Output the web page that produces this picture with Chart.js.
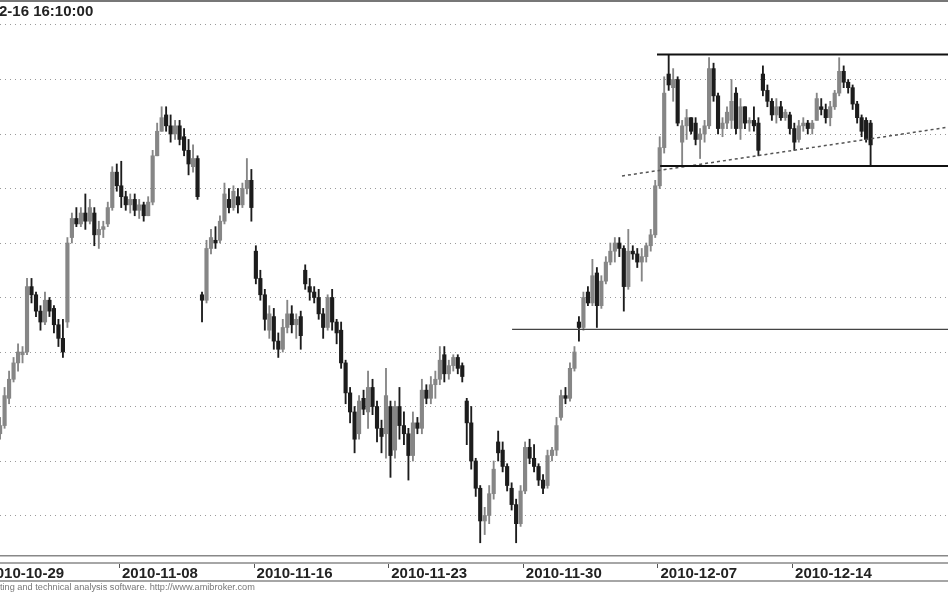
<!DOCTYPE html>
<html>
<head>
<meta charset="utf-8">
<script src="https://cdn.jsdelivr.net/npm/chart.js@4.4.1/dist/chart.umd.min.js"></script>
<style>
html, body { margin: 0; padding: 0; background: #fff; overflow: hidden; }
#wrap { position: relative; width: 948px; height: 593px; overflow: hidden; }
#c { position: absolute; left: -30px; top: 0; }
#title { position: absolute; left: -1px; top: 2px; font: bold 15px "Liberation Sans", Arial, sans-serif; color: #222; white-space: nowrap; }
#foot { position: absolute; left: 0; top: 582px; font: 9.2px "Liberation Sans", Arial, sans-serif; color: #777; white-space: nowrap; }
</style>
</head>
<body>
<div id="wrap">
  <canvas id="c" width="978" height="593"></canvas>
  <div id="title">2-16 16:10:00</div>
  <div id="foot">ting and technical analysis software. http://www.amibroker.com</div>
</div>
<script>
// 6 bars per session, bar 0 = first bar of 2010-10-29
const opens = [
    2631, 2630, 2632, 2630, 2633, 2643,  2650, 2656, 2659, 2660, 2684, 2681,
    2675, 2671, 2679, 2676, 2670, 2665,  2671, 2702, 2709, 2707, 2711, 2708,
    2711, 2703, 2705, 2707, 2713, 2726,  2721, 2717, 2714, 2716, 2712, 2714,
    2710, 2715, 2732, 2741, 2747, 2743,  2740, 2743, 2739, 2734, 2728, 2731,
    2681, 2679, 2698, 2701, 2701, 2708,  2716, 2713, 2717, 2714, 2720, 2723,
    2697, 2687, 2681, 2668, 2673, 2664,  2661, 2669, 2674, 2670, 2673, 2690,
    2684, 2682, 2680, 2674, 2669, 2680,  2671, 2668, 2656, 2645, 2638, 2630,
    2643, 2638, 2647, 2640, 2632, 2630,  2640, 2624, 2640, 2633, 2630, 2622,
    2634, 2632, 2646, 2643, 2648, 2650,  2659, 2652, 2655, 2658, 2655, 2642,
    2634, 2620, 2610, 2598, 2600, 2608,  2627, 2624, 2618, 2610, 2604, 2597,
    2609, 2625, 2621, 2618, 2613, 2611,  2622, 2624, 2636, 2644, 2643, 2654,
    2671, 2669, 2682, 2678, 2689, 2677,  2686, 2693, 2697, 2700, 2698, 2684,
    2697, 2696, 2693, 2695, 2699, 2703,  2721, 2735, 2762, 2757, 2760, 2737,
    2743, 2746, 2744, 2738, 2740, 2743,  2764, 2754, 2742, 2744, 2745, 2755,
    2742, 2750, 2744, 2745, 2744, 2762,  2756, 2752, 2747, 2750, 2746, 2747,
    2742, 2738, 2743, 2744, 2742, 2745,  2750, 2749, 2746, 2750, 2755, 2763,
    2759, 2757, 2751, 2746, 2745, 2744
];
const highs = [
    2634, 2633, 2634, 2636, 2647, 2653,  2658, 2663, 2662, 2687, 2687, 2682,
    2677, 2682, 2680, 2677, 2672, 2672,  2702, 2711, 2713, 2713, 2718, 2716,
    2713, 2708, 2708, 2715, 2728, 2729,  2730, 2719, 2718, 2718, 2716, 2715,
    2717, 2734, 2744, 2750, 2750, 2747,  2745, 2745, 2742, 2738, 2736, 2732,
    2682, 2701, 2705, 2706, 2710, 2722,  2720, 2721, 2720, 2722, 2731, 2727,
    2699, 2690, 2683, 2677, 2676, 2667,  2672, 2679, 2677, 2674, 2675, 2692,
    2687, 2684, 2683, 2676, 2681, 2683,  2672, 2671, 2657, 2647, 2640, 2644,
    2646, 2653, 2650, 2642, 2635, 2654,  2642, 2642, 2647, 2638, 2632, 2638,
    2636, 2650, 2648, 2651, 2653, 2662,  2662, 2657, 2659, 2659, 2656, 2643,
    2640, 2621, 2611, 2603, 2611, 2620,  2631, 2627, 2619, 2612, 2606, 2611,
    2627, 2628, 2626, 2619, 2615, 2624,  2625, 2636, 2646, 2647, 2656, 2662,
    2673, 2682, 2684, 2694, 2691, 2688,  2695, 2700, 2702, 2702, 2699, 2705,
    2699, 2698, 2698, 2700, 2705, 2723,  2739, 2761, 2769, 2764, 2761, 2745,
    2749, 2746, 2746, 2742, 2745, 2768,  2766, 2755, 2746, 2750, 2760, 2757,
    2753, 2750, 2746, 2750, 2746, 2765,  2758, 2753, 2753, 2752, 2749, 2748,
    2744, 2745, 2746, 2745, 2745, 2755,  2753, 2751, 2752, 2756, 2768, 2765,
    2760, 2758, 2752, 2747, 2746, 2745
];
const lows = [
    2628, 2627, 2628, 2628, 2632, 2641,  2649, 2653, 2656, 2659, 2678, 2673,
    2668, 2670, 2673, 2667, 2662, 2658,  2669, 2700, 2706, 2706, 2705, 2707,
    2699, 2698, 2702, 2706, 2712, 2719,  2713, 2712, 2711, 2710, 2709, 2708,
    2710, 2714, 2732, 2741, 2741, 2737,  2738, 2736, 2732, 2725, 2726, 2716,
    2671, 2678, 2696, 2698, 2700, 2707,  2711, 2712, 2711, 2713, 2718, 2708,
    2685, 2679, 2668, 2665, 2661, 2658,  2660, 2667, 2667, 2665, 2661, 2683,
    2679, 2678, 2672, 2665, 2668, 2668,  2663, 2654, 2641, 2634, 2623, 2628,
    2637, 2632, 2637, 2627, 2623, 2621,  2614, 2621, 2628, 2626, 2613, 2620,
    2630, 2630, 2641, 2641, 2643, 2648,  2649, 2650, 2653, 2652, 2649, 2626,
    2617, 2607, 2590, 2593, 2597, 2606,  2620, 2616, 2609, 2602, 2590, 2596,
    2608, 2619, 2616, 2611, 2608, 2610,  2620, 2622, 2635, 2641, 2642, 2653,
    2664, 2668, 2677, 2677, 2669, 2676,  2685, 2692, 2693, 2695, 2675, 2683,
    2694, 2691, 2686, 2693, 2697, 2702,  2720, 2733, 2756, 2752, 2743, 2728,
    2738, 2740, 2736, 2731, 2737, 2742,  2752, 2740, 2739, 2742, 2742, 2740,
    2738, 2742, 2741, 2741, 2732, 2754,  2750, 2745, 2744, 2745, 2745, 2740,
    2734, 2737, 2741, 2740, 2740, 2745,  2747, 2744, 2743, 2749, 2754, 2757,
    2755, 2749, 2744, 2739, 2737, 2728
];
const closes = [
    2630, 2632, 2629, 2633, 2644, 2650,  2656, 2660, 2660, 2684, 2681, 2675,
    2671, 2679, 2675, 2670, 2665, 2660,  2700, 2709, 2707, 2711, 2708, 2713,
    2703, 2705, 2706, 2713, 2726, 2721,  2717, 2714, 2716, 2712, 2714, 2710,
    2715, 2732, 2741, 2746, 2743, 2740,  2743, 2738, 2734, 2729, 2731, 2717,
    2679, 2698, 2702, 2700, 2708, 2718,  2713, 2719, 2714, 2720, 2723, 2713,
    2687, 2681, 2672, 2674, 2664, 2661,  2669, 2674, 2670, 2672, 2666, 2685,
    2682, 2680, 2674, 2669, 2680, 2671,  2667, 2656, 2645, 2638, 2628, 2642,
    2639, 2647, 2640, 2632, 2629, 2644,  2622, 2640, 2633, 2630, 2622, 2634,
    2632, 2646, 2643, 2648, 2650, 2657,  2652, 2655, 2658, 2654, 2651, 2634,
    2620, 2610, 2598, 2600, 2608, 2617,  2623, 2618, 2611, 2604, 2597, 2609,
    2625, 2621, 2618, 2613, 2610, 2622,  2624, 2633, 2644, 2643, 2654, 2660,
    2669, 2680, 2678, 2688, 2677, 2686,  2693, 2697, 2700, 2698, 2684, 2697,
    2696, 2693, 2695, 2699, 2703, 2721,  2735, 2755, 2758, 2760, 2744, 2743,
    2746, 2741, 2738, 2740, 2743, 2764,  2754, 2742, 2744, 2748, 2752, 2742,
    2750, 2744, 2745, 2743, 2734, 2756,  2752, 2747, 2750, 2746, 2748, 2742,
    2737, 2743, 2744, 2742, 2744, 2753,  2749, 2746, 2750, 2755, 2763, 2759,
    2757, 2751, 2746, 2741, 2738, 2736
];

// date axis: label sits at the first bar of every 5th session
const dateLabels = ['2010-10-29', '2010-11-08', '2010-11-16', '2010-11-23', '2010-11-30', '2010-12-07', '2010-12-14'];
const dateTicks = [-0.5, 29.5, 59.5, 89.5, 119.5, 149.5, 179.5];
const priceGrid = [2600, 2620, 2640, 2660, 2680, 2700, 2720, 2740, 2760, 2780];

// hand drawn study lines
const rangeTop = 2769.2;
const rangeBottom = 2728.3;
const breakoutLevel = 2668.3;
const trendStart = [141.6, 2724.6];
const trendEnd = [214.3, 2742.5];

const upColor = '#868686';
const downColor = '#1c1c1c';
const candleColors = closes.map((c, i) => c >= opens[i] ? upColor : downColor);

const wickData = highs.map((h, i) => ({ x: i, y: [lows[i], h] }));
const bodyData = opens.map((o, i) => ({ x: i, y: [Math.min(o, closes[i]), Math.max(o, closes[i])] }));

// axis box, frame line and tick marks under the chart
const frame = {
    id: 'frame',
    afterDraw(chart) {
        const { ctx, chartArea, scales } = chart;
        const w = chart.width;
        const b = chartArea.bottom;
        ctx.save();
        ctx.strokeStyle = '#777';
        ctx.lineWidth = 2;
        ctx.beginPath(); ctx.moveTo(0, 1); ctx.lineTo(w, 1); ctx.stroke();
        ctx.strokeStyle = '#888';
        ctx.lineWidth = 1.5;
        [b + 7, b + 25].forEach(y => {
            ctx.beginPath(); ctx.moveTo(0, y); ctx.lineTo(w, y); ctx.stroke();
        });
        ctx.strokeStyle = '#555';
        ctx.lineWidth = 1;
        dateTicks.forEach(v => {
            const x = Math.round(scales.x.getPixelForValue(v)) + 0.5;
            ctx.beginPath(); ctx.moveTo(x, b + 8); ctx.lineTo(x, b + 12); ctx.stroke();
        });
        ctx.restore();
    }
};

function levelLine(x0, y0, x1, y1) {
    return [{ x: x0, y: y0 }, { x: x1, y: y1 }];
}

const ctx = document.getElementById('c').getContext('2d');
new Chart(ctx, {
    type: 'bar',
    data: {
        datasets: [
            {
                type: 'line',
                data: levelLine(149.4, rangeTop, 214.3, rangeTop),
                borderColor: '#111',
                borderWidth: 2,
                pointRadius: 0,
                order: 0
            },
            {
                type: 'line',
                data: levelLine(150.1, rangeBottom, 214.3, rangeBottom),
                borderColor: '#111',
                borderWidth: 2,
                pointRadius: 0,
                order: 0
            },
            {
                type: 'line',
                data: levelLine(117.1, breakoutLevel, 214.3, breakoutLevel),
                borderColor: '#444',
                borderWidth: 1.2,
                pointRadius: 0,
                order: 0
            },
            {
                type: 'line',
                data: levelLine(trendStart[0], trendStart[1], trendEnd[0], trendEnd[1]),
                borderColor: '#555',
                borderWidth: 1.5,
                borderDash: [3, 3],
                pointRadius: 0,
                order: 0
            },
            {
                label: 'body',
                data: bodyData,
                backgroundColor: candleColors,
                barThickness: 3.5,
                minBarLength: 1,
                grouped: false,
                order: 1
            },
            {
                label: 'wick',
                data: wickData,
                backgroundColor: candleColors,
                barThickness: 1.2,
                grouped: false,
                order: 2
            }
        ]
    },
    options: {
        responsive: false,
        animation: false,
        devicePixelRatio: 1,
        layout: { autoPadding: false, padding: { top: 2, left: 0, right: 0, bottom: 0 } },
        plugins: {
            legend: { display: false },
            tooltip: { enabled: false }
        },
        scales: {
            x: {
                type: 'linear',
                offset: false,
                min: -3.708,
                max: 214.25,
                grid: { display: false, offset: false },
                border: { display: true, color: '#888', width: 1.5 },
                afterBuildTicks: scale => {
                    scale.ticks = dateTicks.map(v => ({ value: v }));
                },
                afterFit: scale => { scale.height = 37; },
                ticks: {
                    autoSkip: false,
                    maxRotation: 0,
                    align: 'start',
                    labelOffset: 3,
                    padding: 1,
                    color: '#222',
                    font: { family: '"Liberation Sans", Arial, sans-serif', size: 15, weight: 'bold' },
                    callback: (value, index) => dateLabels[index]
                }
            },
            y: {
                min: 2585.14,
                max: 2788.44,
                afterBuildTicks: scale => {
                    scale.ticks = priceGrid.map(v => ({ value: v }));
                },
                afterFit: scale => { scale.width = 0; },
                ticks: { display: false },
                grid: { color: '#9a9a9a', lineWidth: 1, drawTicks: false },
                border: { display: false, dash: [1, 4] }
            }
        }
    },
    plugins: [frame]
});
</script>
</body>
</html>
